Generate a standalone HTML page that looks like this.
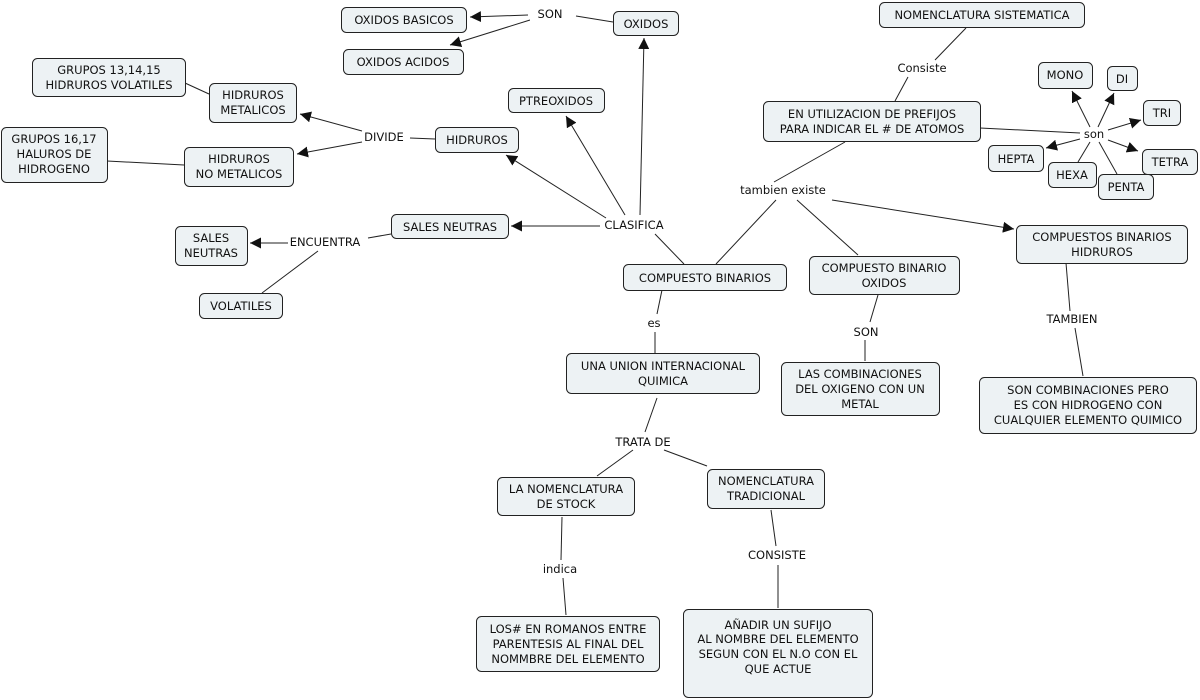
<!DOCTYPE html>
<html><head><meta charset="utf-8"><style>
html,body{margin:0;padding:0;background:#fff;width:1200px;height:700px;overflow:hidden}
svg text{font-family:"DejaVu Sans","Liberation Sans",sans-serif;font-size:11.5px;fill:#111;text-anchor:middle}
rect{fill:#edf2f4;stroke:#222;stroke-width:1}
line{stroke:#222;stroke-width:1}
line.a{marker-end:url(#ar)}
</style></head><body>
<svg width="1200" height="700" xmlns="http://www.w3.org/2000/svg">
<defs><marker id="ar" viewBox="0 0 10 10" refX="10" refY="5" markerWidth="11" markerHeight="11" markerUnits="userSpaceOnUse" orient="auto"><path d="M0,0L10,5L0,10z" fill="#111"/></marker></defs>
<!-- lines -->
<line x1="613" y1="22" x2="576" y2="16"/>
<line class="a" x1="528" y1="15" x2="470" y2="17"/>
<line class="a" x1="530" y1="20" x2="450" y2="45"/>
<line class="a" x1="640" y1="215" x2="644" y2="38"/>
<line class="a" x1="625" y1="215" x2="566" y2="116"/>
<line class="a" x1="606" y1="218" x2="506" y2="155"/>
<line class="a" x1="600" y1="226" x2="511" y2="226"/>
<line x1="684" y1="264" x2="655" y2="234"/>
<line x1="435" y1="139" x2="410" y2="138"/>
<line class="a" x1="362" y1="131" x2="300" y2="114"/>
<line class="a" x1="362" y1="142" x2="297" y2="154"/>
<line x1="185" y1="83" x2="209" y2="94"/>
<line x1="107" y1="161" x2="184" y2="165"/>
<line x1="391" y1="234" x2="368" y2="238"/>
<line class="a" x1="288" y1="243" x2="250" y2="243"/>
<line x1="262" y1="293" x2="318" y2="251"/>
<line x1="716" y1="264" x2="776" y2="200"/>
<line x1="845" y1="142" x2="774" y2="182"/>
<line x1="797" y1="200" x2="858" y2="255"/>
<line class="a" x1="832" y1="200" x2="1014" y2="229"/>
<line x1="966" y1="28" x2="935" y2="60"/>
<line x1="908" y1="77" x2="895" y2="101"/>
<line x1="980" y1="128" x2="1080" y2="133"/>
<line class="a" x1="1090" y1="127" x2="1072" y2="91"/>
<line class="a" x1="1098" y1="127" x2="1114" y2="93"/>
<line class="a" x1="1108" y1="130" x2="1141" y2="120"/>
<line class="a" x1="1108" y1="140" x2="1138" y2="151"/>
<line class="a" x1="1080" y1="139" x2="1046" y2="148"/>
<line x1="1090" y1="142" x2="1078" y2="162"/>
<line x1="1099" y1="142" x2="1117" y2="174"/>
<line x1="878" y1="295" x2="870" y2="322"/>
<line x1="865" y1="340" x2="865" y2="361"/>
<line x1="1066" y1="263" x2="1070" y2="311"/>
<line x1="1075" y1="328" x2="1083" y2="376"/>
<line x1="662" y1="290" x2="657" y2="314"/>
<line x1="655" y1="332" x2="655" y2="353"/>
<line x1="657" y1="398" x2="645" y2="432"/>
<line x1="633" y1="450" x2="597" y2="476"/>
<line x1="664" y1="450" x2="707" y2="466"/>
<line x1="562" y1="517" x2="561" y2="560"/>
<line x1="563" y1="578" x2="566" y2="615"/>
<line x1="771" y1="510" x2="776" y2="546"/>
<line x1="778" y1="565" x2="778" y2="608"/>
<!-- link labels -->
<g fill="#fff"><rect style="fill:#fff;stroke:none" x="530" y="6" width="42" height="15"/></g>
<text x="550" y="18">SON</text>
<text x="922" y="72">Consiste</text>
<text x="1094" y="138">son</text>
<text x="384" y="141">DIVIDE</text>
<text x="783" y="194">tambien existe</text>
<text x="634" y="229">CLASIFICA</text>
<text x="325" y="246">ENCUENTRA</text>
<text x="654" y="327">es</text>
<text x="866" y="336">SON</text>
<text x="1072" y="323">TAMBIEN</text>
<text x="643" y="446">TRATA DE</text>
<text x="560" y="573">indica</text>
<text x="777" y="559">CONSISTE</text>
<!-- nodes -->
<rect x="341.5" y="7.5" width="125" height="25" rx="5"/><text x="404" y="24">OXIDOS BASICOS</text>
<rect x="343.5" y="49.5" width="120" height="25" rx="5"/><text x="403" y="66">OXIDOS ACIDOS</text>
<rect x="613.5" y="11.5" width="65" height="24" rx="5"/><text x="646" y="28">OXIDOS</text>
<rect x="879.5" y="2.5" width="205" height="25" rx="5"/><text x="982" y="19">NOMENCLATURA SISTEMATICA</text>
<rect x="1038.5" y="62.5" width="54" height="26" rx="5"/><text x="1065" y="79">MONO</text>
<rect x="1107.5" y="66.5" width="30" height="24" rx="5"/><text x="1122" y="83">DI</text>
<rect x="1143.5" y="100.5" width="37" height="25" rx="5"/><text x="1162" y="117">TRI</text>
<rect x="988.5" y="145.5" width="55" height="26" rx="5"/><text x="1016" y="163">HEPTA</text>
<rect x="1048.5" y="162.5" width="48" height="25" rx="5"/><text x="1072" y="179">HEXA</text>
<rect x="1098.5" y="174.5" width="55" height="25" rx="5"/><text x="1126" y="191">PENTA</text>
<rect x="1142.5" y="149.5" width="55" height="25" rx="5"/><text x="1170" y="166">TETRA</text>
<rect x="763.5" y="101.5" width="217" height="40" rx="5"/><text x="872" y="118">EN UTILIZACION DE PREFIJOS</text><text x="872" y="133">PARA INDICAR EL # DE ATOMOS</text>
<rect x="32.5" y="58.5" width="153" height="38" rx="5"/><text x="109" y="74">GRUPOS 13,14,15</text><text x="109" y="89">HIDRUROS VOLATILES</text>
<rect x="209.5" y="83.5" width="87" height="39" rx="5"/><text x="253" y="99">HIDRUROS</text><text x="253" y="114">METALICOS</text>
<rect x="508.5" y="88.5" width="96" height="24" rx="5"/><text x="556" y="105">PTREOXIDOS</text>
<rect x="435.5" y="127.5" width="83" height="25" rx="5"/><text x="477" y="144">HIDRUROS</text>
<rect x="1.5" y="127.5" width="106" height="55" rx="5"/><text x="54" y="143">GRUPOS 16,17</text><text x="54" y="158">HALUROS DE</text><text x="54" y="173">HIDROGENO</text>
<rect x="184.5" y="147.5" width="109" height="39" rx="5"/><text x="239" y="163">HIDRUROS</text><text x="239" y="178">NO METALICOS</text>
<rect x="391.5" y="214.5" width="117" height="24" rx="5"/><text x="450" y="231">SALES NEUTRAS</text>
<rect x="175.5" y="226.5" width="72" height="39" rx="5"/><text x="211" y="242">SALES</text><text x="211" y="257">NEUTRAS</text>
<rect x="1016.5" y="225.5" width="171" height="38" rx="5"/><text x="1102" y="241">COMPUESTOS BINARIOS</text><text x="1102" y="256">HIDRUROS</text>
<rect x="623.5" y="264.5" width="163" height="26" rx="5"/><text x="705" y="282">COMPUESTO BINARIOS</text>
<rect x="809.5" y="256.5" width="150" height="38" rx="5"/><text x="884" y="272">COMPUESTO BINARIO</text><text x="884" y="287">OXIDOS</text>
<rect x="199.5" y="293.5" width="83" height="25" rx="5"/><text x="241" y="310">VOLATILES</text>
<rect x="566.5" y="353.5" width="193" height="40" rx="5"/><text x="663" y="370">UNA UNION INTERNACIONAL</text><text x="663" y="385">QUIMICA</text>
<rect x="781.5" y="362.5" width="158" height="53" rx="5"/><text x="860" y="378">LAS COMBINACIONES</text><text x="860" y="393">DEL OXIGENO CON UN</text><text x="860" y="408">METAL</text>
<rect x="979.5" y="377.5" width="217" height="56" rx="5"/><text x="1088" y="394">SON COMBINACIONES PERO</text><text x="1088" y="409">ES CON HIDROGENO CON</text><text x="1088" y="424">CUALQUIER ELEMENTO QUIMICO</text>
<rect x="497.5" y="477.5" width="137" height="38" rx="5"/><text x="566" y="493">LA NOMENCLATURA</text><text x="566" y="508">DE STOCK</text>
<rect x="707.5" y="469.5" width="117" height="39" rx="5"/><text x="766" y="485">NOMENCLATURA</text><text x="766" y="500">TRADICIONAL</text>
<rect x="476.5" y="616.5" width="183" height="55" rx="5"/><text x="568" y="633">LOS# EN ROMANOS ENTRE</text><text x="568" y="648">PARENTESIS AL FINAL DEL</text><text x="568" y="663">NOMMBRE DEL ELEMENTO</text>
<rect x="683.5" y="609.5" width="189" height="88" rx="5"/><text x="778" y="629">AÑADIR UN SUFIJO</text><text x="778" y="643">AL NOMBRE DEL ELEMENTO</text><text x="778" y="658">SEGUN CON EL N.O CON EL</text><text x="778" y="673">QUE ACTUE</text>
</svg>
</body></html>
